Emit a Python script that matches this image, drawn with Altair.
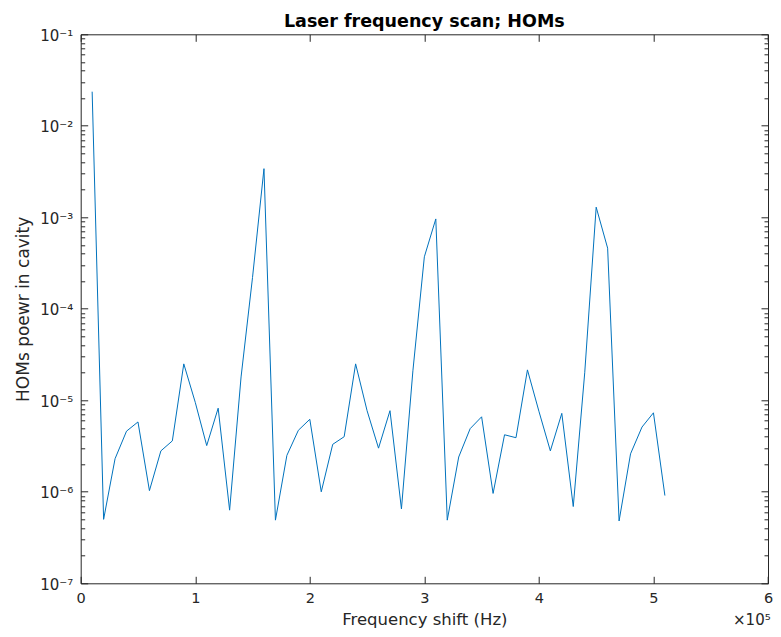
import altair as alt
import pandas as pd

# ---- data ----
freq_hz = [10000, 20000, 30000, 40000, 50000, 60000, 70000, 80000, 90000, 100000,
           110000, 120000, 130000, 140000, 150000, 160000, 170000, 180000, 190000, 200000,
           210000, 220000, 230000, 240000, 250000, 260000, 270000, 280000, 290000, 300000,
           310000, 320000, 330000, 340000, 350000, 360000, 370000, 380000, 390000, 400000,
           410000, 420000, 430000, 440000, 450000, 460000, 470000, 480000, 490000, 500000,
           510000]
hom_power = [2.36e-2, 5.0e-7, 2.3e-6, 4.6e-6, 5.8e-6, 1.03e-6, 2.8e-6, 3.6e-6, 2.5e-5, 9.5e-6,
             3.2e-6, 8.2e-6, 6.3e-7, 1.8e-5, 2.2e-4, 3.4e-3, 4.9e-7, 2.5e-6, 4.7e-6, 6.2e-6,
             1.0e-6, 3.3e-6, 4.0e-6, 2.5e-5, 7.7e-6, 3.0e-6, 7.7e-6, 6.5e-7, 2.1e-5, 3.7e-4,
             9.6e-4, 4.9e-7, 2.4e-6, 4.9e-6, 6.6e-6, 9.6e-7, 4.2e-6, 3.9e-6, 2.15e-5, 7.6e-6,
             2.8e-6, 7.2e-6, 6.9e-7, 2.0e-5, 1.29e-3, 4.6e-4, 4.8e-7, 2.6e-6, 5.1e-6, 7.3e-6,
             9.1e-7]

x_tick_values = [0, 100000, 200000, 300000, 400000, 500000, 600000]
y_major_values = [1e-7, 1e-6, 1e-5, 1e-4, 1e-3, 1e-2, 1e-1]
y_minor_values = [m * 10.0 ** k for k in range(-7, -1) for m in range(2, 10)]

TITLE = "Laser frequency scan; HOMs"
X_TITLE = "Frequency shift (Hz)"
Y_TITLE = "HOMs poewr in cavity"
EXP_LABEL = "×10⁵"

FONT = "DejaVu Sans"
AX = "#262626"
LINE = "#0072BD"

W = 687.3
H = 549

df = pd.DataFrame({"f": freq_hz, "p": hom_power})

xs = alt.Scale(domain=[0, 600000], nice=False, zero=False)
ys = alt.Scale(type="log", domain=[1e-7, 1e-1], nice=False)

base = alt.Chart(df)


def layer(axis_x, axis_y, visible=False):
    m = base.mark_line(color=LINE, strokeWidth=1, opacity=1 if visible else 0)
    return m.encode(
        x=alt.X("f:Q", scale=xs, axis=axis_x),
        y=alt.Y("p:Q", scale=ys, axis=axis_y),
    )


def tick_axis(orient, values, size):
    return alt.Axis(orient=orient, values=values, labels=False, domain=False, grid=False,
                    ticks=True, tickSize=size, offset=-size, tickColor=AX, tickWidth=1,
                    title=None)


sup = "['⁰','¹','²','³','⁴','⁵','⁶','⁷','⁸','⁹']"
y_label_expr = "'10⁻' + " + sup + "[round(-log(datum.value)/LN10)]"

main = layer(
    alt.Axis(orient="bottom", values=x_tick_values, labelExpr="datum.value/100000",
             ticks=False, domain=False, grid=False, labelPadding=8, labelFontSize=14.5,
             labelFont=FONT, labelColor=AX, labelFlush=False,
             title=X_TITLE, titleFont=FONT, titleFontSize=16.5,
             titleFontWeight="normal", titleColor=AX, titleY=41, titleBaseline="alphabetic"),
    alt.Axis(orient="left", values=y_major_values, labelExpr=y_label_expr,
             ticks=False, domain=False, grid=False, labelPadding=8, labelFontSize=15,
             labelFont=FONT, labelColor=AX, labelFlush=False, labelOffset=1,
             title=Y_TITLE, titleFont=FONT, titleFontSize=17,
             titleFontWeight="normal", titleColor=AX, titleX=-52, titleBaseline="alphabetic"),
    visible=True,
)
ticks_bl = layer(tick_axis("bottom", x_tick_values, 7), tick_axis("left", y_major_values, 7))
ticks_tr = layer(tick_axis("top", x_tick_values, 7), tick_axis("right", y_major_values, 7))
minor_l = layer(None, tick_axis("left", y_minor_values, 4))
minor_r = layer(None, tick_axis("right", y_minor_values, 4))

exp_text = alt.Chart(pd.DataFrame({"t": [EXP_LABEL]})).mark_text(
    align="right", baseline="alphabetic", fontSize=15, font=FONT, color=AX
).encode(text="t:N", x=alt.value(690), y=alt.value(591))

title_text = alt.Chart(pd.DataFrame({"t": [TITLE]})).mark_text(
    align="center", baseline="alphabetic", fontSize=17.5, fontWeight="bold", font=FONT,
    color="#000000"
).encode(text="t:N", x=alt.value(W / 2), y=alt.value(-7.3))

chart = alt.layer(ticks_bl, ticks_tr, minor_l, minor_r, main, exp_text, title_text).resolve_axis(
    x="independent", y="independent"
).properties(
    width=W,
    height=H,
    background="white",
    autosize=alt.AutoSizeParams(type="none"),
    padding={"left": 72.7, "top": 26.3, "right": 5, "bottom": 45.7},
).configure_view(stroke=AX, strokeWidth=1).configure_axis(
    labelFont=FONT, titleFont=FONT
)

chart.save("out.html", embed_options={"renderer": "svg", "actions": False})
